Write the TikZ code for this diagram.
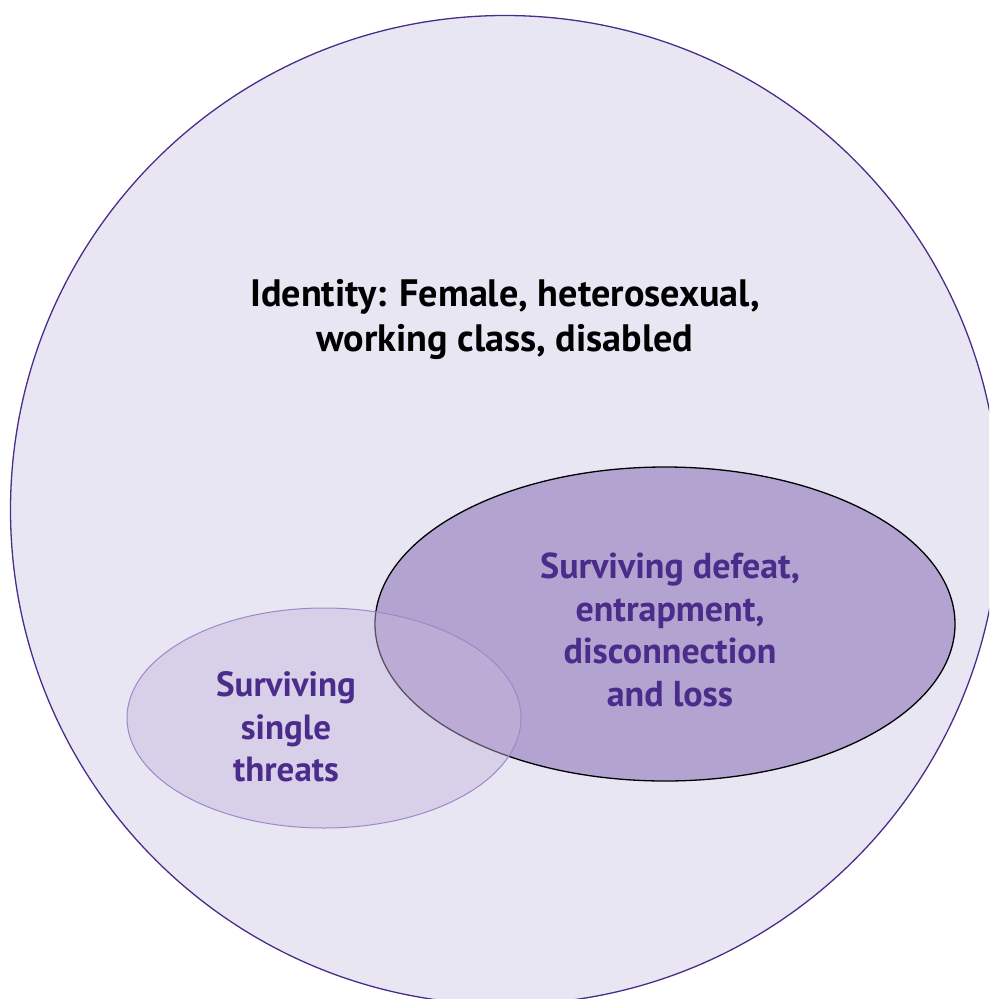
\documentclass[tikz,border=0pt]{standalone}
\usepackage{fontspec}
\setmainfont{PT Sans}
\definecolor{deeppurple}{HTML}{4B2C8A}
\definecolor{paleback}{HTML}{E9E6F4}
\definecolor{midpurple}{HTML}{B3A3D0}
\definecolor{softpurple}{HTML}{C5B5DC}
\definecolor{rimpurple}{HTML}{9C89C8}

\begin{document}
\begin{tikzpicture}[x=1pt,y=-1pt,
  txt/.style={align=center,font=\bfseries\fontsize{35}{42.5}\selectfont,text=deeppurple}]
\useasboundingbox (0,0) rectangle (989,999) ;
\clip (0,0) rectangle (989,999) ;
\draw [deeppurple,line width=1.3,fill=paleback] (505,510) circle [radius=494.5] ;
\draw [black,line width=1.3,fill=midpurple] (665,624) ellipse [x radius=290, y radius=157] ;
\draw [rimpurple,line width=1,fill=softpurple,fill opacity=0.45] (324,718) ellipse [x radius=197, y radius=110] ;
\node (identity) at (505,319) [align=center,font=\bfseries\fontsize{38.2}{45}\selectfont] {Identity: Female, heterosexual,\\working class, disabled} ;
\node (defeat) at (670,630) [txt,font=\bfseries\fontsize{36}{42.5}\selectfont] {Surviving defeat,\\entrapment,\\disconnection\\and loss} ;
\node (single) at (286,727) [txt] {Surviving\\single\\threats} ;
\end{tikzpicture}
\end{document}
